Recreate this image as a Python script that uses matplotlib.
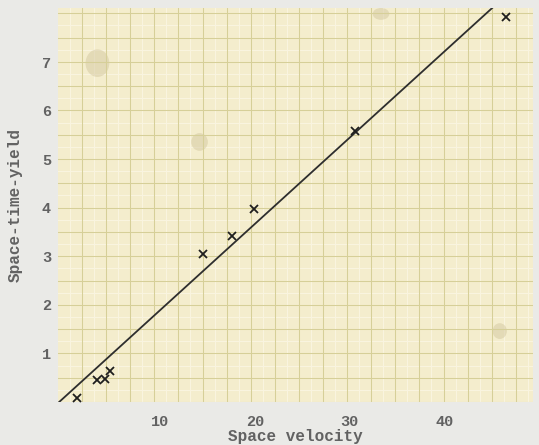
import numpy as np
import matplotlib
matplotlib.use("Agg")
import matplotlib.pyplot as plt
from matplotlib.patches import Ellipse

space_velocity = [1.3, 3.4, 4.2, 4.7, 14.5, 17.6, 19.9, 30.6, 46.5]
space_time_yield = [0.08, 0.45, 0.47, 0.64, 3.05, 3.42, 3.98, 5.59, 7.94]

# hand-drawn straight line
fit_slope = 0.178
fit_intercept = 0.11
fit_x_range = [-0.6, 45.1]

x_ticks = [10, 20, 30, 40]
y_ticks = [1, 2, 3, 4, 5, 6, 7]

PAPER = "#f4edcd"
GRID = "#d6cf98"
TEXT = "#626262"
FONT = "Liberation Mono"

fig = plt.figure(figsize=(5.39, 4.45), dpi=100)
fig.patch.set_facecolor("#eaeae7")
ax = fig.add_axes([58 / 539, 1 - 402 / 445, 475 / 539, 394 / 445])
ax.set_facecolor(PAPER)
ax.set_xlim(-0.74, 49.3)
ax.set_ylim(0, 8.12)

# graph paper rulings, in pixel spacing of the sheet (not tied to data)
W, H = 475.0, 394.0
for px in np.arange(24.0 - 12.05, W, 12.05):
    ax.axvline(-0.74 + px / W * 50.04, color="#faf5e0", lw=0.7, zorder=0.5)
for py in np.arange(12.15, H, 12.15):
    ax.axhline(py / H * 8.12, color="#faf5e0", lw=0.7, zorder=0.5)
for px in np.arange(24.0, W, 24.1):
    ax.axvline(-0.74 + px / W * 50.04, color=GRID, lw=0.75, zorder=1)
for py in np.arange(0, H, 24.3):
    ax.axhline(py / H * 8.12, color=GRID, lw=0.75, zorder=1)

# a few faint stains on the sheet
for cx, cy, w, h in [(0.083, 0.86, 0.05, 0.07), (0.298, 0.66, 0.035, 0.045),
                     (0.68, 0.985, 0.035, 0.03), (0.93, 0.18, 0.03, 0.04)]:
    ax.add_patch(Ellipse((cx, cy), w, h, transform=ax.transAxes,
                         color="#cfc39a", alpha=0.45, lw=0, zorder=0.8))

xs = np.array(fit_x_range)
ax.plot(xs, fit_slope * xs + fit_intercept, color="#2e2e2e", lw=1.3, zorder=3)
ax.plot(space_velocity, space_time_yield, linestyle="none", marker="x",
        ms=6, mew=1.3, color="#1e1e1e", zorder=4)

for s in ax.spines.values():
    s.set_visible(False)
ax.set_xticks(x_ticks)
ax.set_yticks(y_ticks)
ax.tick_params(axis="both", length=0, labelsize=11, labelcolor=TEXT)
ax.tick_params(axis="x", pad=9)
ax.tick_params(axis="y", pad=5)
for lab in ax.get_xticklabels() + ax.get_yticklabels():
    lab.set_fontfamily(FONT)
    lab.set_fontweight("bold")

ax.set_xlabel("Space velocity", fontsize=11.5, family=FONT, weight="bold",
              color=TEXT, labelpad=0)
ax.set_ylabel("Space-time-yield", fontsize=11.5, family=FONT, weight="bold",
              color=TEXT, labelpad=14)

fig.savefig("out.png", dpi=100, facecolor=fig.get_facecolor())
